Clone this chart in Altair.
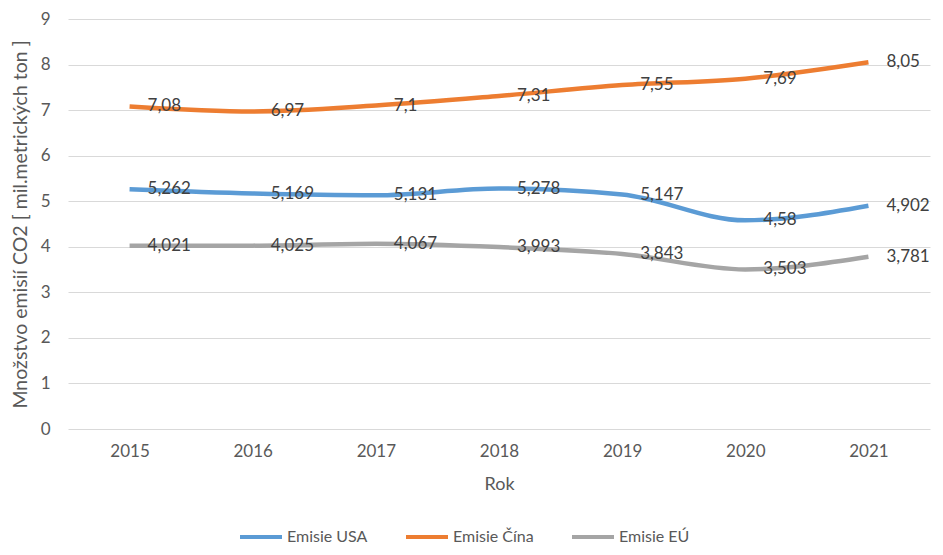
import altair as alt
import pandas as pd

years = ["2015", "2016", "2017", "2018", "2019", "2020", "2021"]
usa = [5.262, 5.169, 5.131, 5.278, 5.147, 4.58, 4.902]
cina = [7.08, 6.97, 7.1, 7.31, 7.55, 7.69, 8.05]
eu = [4.021, 4.025, 4.067, 3.993, 3.843, 3.503, 3.781]
series_names = ["Emisie USA", "Emisie Čína", "Emisie EÚ"]
series_colors = ["#5B9BD5", "#ED7D31", "#A5A5A5"]

rows = []
for name, vals in zip(series_names, [usa, cina, eu]):
    for y, v in zip(years, vals):
        rows.append({"Rok": y, "Seria": name, "Hodnota": v, "Text": str(v).replace(".", ",")})
df = pd.DataFrame(rows)

FONT = "Lato"

x = alt.X("Rok:O", title="Rok", sort=years,
          scale=alt.Scale(type="point", padding=0.5),
          axis=alt.Axis(labelAngle=0, labelFontSize=17, labelColor="#595959", labelPadding=14,
                        ticks=False, domain=False, grid=False,
                        titleFontSize=18, titleColor="#595959", titleFontWeight="normal", titlePadding=16))
y = alt.Y("Hodnota:Q", title="Množstvo emisií CO2 [ mil.metrických ton ]",
          scale=alt.Scale(domain=[0, 9], nice=False),
          axis=alt.Axis(values=list(range(0, 10)), labelFontSize=17, labelColor="#595959", labelPadding=18,
                        ticks=False, domain=False, grid=True, gridColor="#D9D9D9", gridWidth=1.2,
                        titleFontSize=19.5, titleColor="#595959", titleFontWeight="normal", titlePadding=10))
color = alt.Color("Seria:N", sort=series_names,
                  scale=alt.Scale(domain=series_names, range=series_colors),
                  legend=alt.Legend(title=None, orient="none", direction="horizontal",
                                    legendX=170, legendY=495,
                                    symbolType="stroke", symbolSize=1764, symbolStrokeWidth=4,
                                    labelFontSize=16, labelColor="#595959", labelOffset=3,
                                    columnPadding=30))

base = alt.Chart(df)
lines = base.mark_line(strokeWidth=4.5, interpolate="monotone").encode(x=x, y=y, color=color)
labels = base.mark_text(align="left", baseline="middle", dx=18, fontSize=17, color="#404040", font=FONT).encode(
    x=alt.X("Rok:O", sort=years), y="Hodnota:Q", text="Text:N")

chart = (lines + labels).properties(
    width=862, height=410,
    autosize=alt.AutoSizeParams(type="none"),
    padding={"left": 60, "top": 11, "right": 5, "bottom": 118},
).configure(font=FONT).configure_view(stroke=None)

chart.save("out.html", embed_options={"renderer": "svg", "actions": False})
